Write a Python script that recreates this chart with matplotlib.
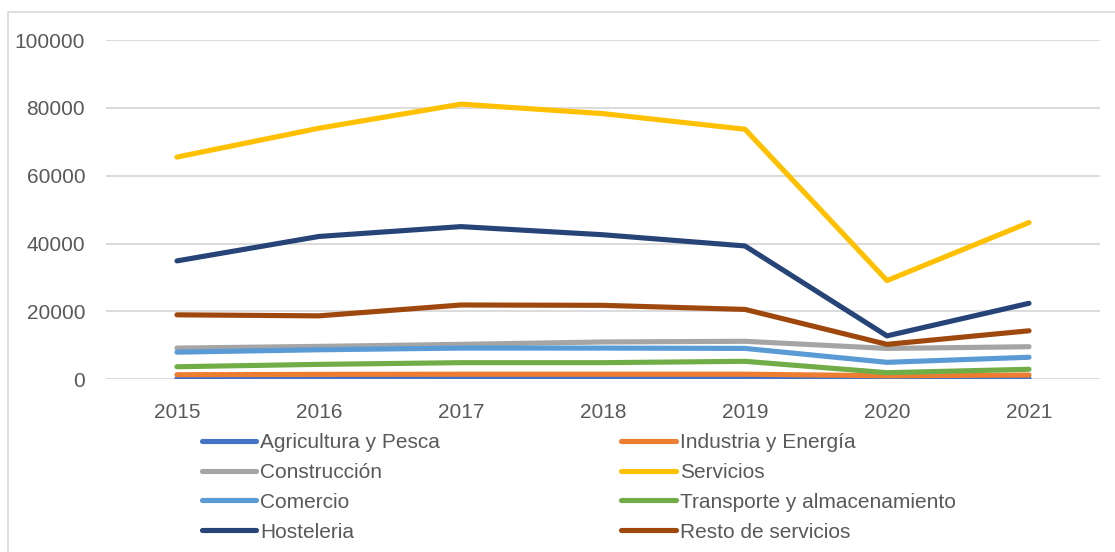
import matplotlib
matplotlib.use("Agg")
import matplotlib.pyplot as plt
from matplotlib.patches import Rectangle

years = ["2015", "2016", "2017", "2018", "2019", "2020", "2021"]
agricultura = [250, 250, 250, 250, 250, 200, 250]
industria = [1350, 1450, 1500, 1500, 1500, 1050, 1250]
construccion = [9200, 9700, 10300, 11000, 11200, 9100, 9600]
servicios = [65500, 74000, 81100, 78300, 73700, 29100, 46200]
comercio = [8000, 8700, 9200, 9200, 9100, 5000, 6500]
transporte = [3700, 4400, 4900, 4900, 5300, 1950, 2950]
hosteleria = [34900, 42100, 45000, 42600, 39300, 12800, 22400]
resto = [19000, 18700, 21900, 21800, 20600, 10300, 14300]

series = [
    ("Agricultura y Pesca", agricultura, "#4472C4"),
    ("Industria y Energía", industria, "#ED7D31"),
    ("Construcción", construccion, "#A5A5A5"),
    ("Servicios", servicios, "#FFC000"),
    ("Comercio", comercio, "#5B9BD5"),
    ("Transporte y almacenamiento", transporte, "#70AD47"),
    ("Hosteleria", hosteleria, "#264478"),
    ("Resto de servicios", resto, "#9E480E"),
]

plt.rcParams['font.family'] = ['Liberation Sans', 'DejaVu Sans']
W, H = 1115, 552
fig = plt.figure(figsize=(W / 100, H / 100), dpi=100)
ax = fig.add_axes([106 / W, 1 - 379.3 / H, (1100 - 106) / W, (379.3 - 40) / H])

x = list(range(len(years)))
handles = []
for name, vals, col in series:
    ln, = ax.plot(x, vals, color=col, lw=3.7, solid_capstyle='round',
                  solid_joinstyle='round', label=name, zorder=3)
    handles.append(ln)

ax.set_xlim(-0.5, len(years) - 0.5)
ax.set_ylim(0, 100000)
ax.set_yticks(range(0, 100001, 20000))
ax.set_xticks(x)
ax.set_xticklabels(years)
ax.grid(axis='y', color='#D9D9D9', lw=1.3, zorder=0)
for s in ax.spines.values():
    s.set_visible(False)
ax.tick_params(axis='both', length=0, labelsize=15, labelcolor='#595959')
ax.tick_params(axis='y', pad=15)
ax.tick_params(axis='x', pad=17)

order = [0, 2, 4, 6, 1, 3, 5, 7]
leg = fig.legend([handles[i] for i in order], [series[i][0] for i in order],
                 ncol=2, loc='upper left', bbox_to_anchor=(202 / W, 1 - 433 / H),
                 frameon=False, fontsize=15, handlelength=2.6, handletextpad=0.2,
                 labelspacing=0.52, columnspacing=8.7, borderpad=0, borderaxespad=0)
for t in leg.get_texts():
    t.set_color('#595959')

fig.patches.append(Rectangle((7.5 / W, -0.05), 1.2, (1 - 12 / H) + 0.05,
                             transform=fig.transFigure, fill=False,
                             edgecolor='#D9D9D9', lw=1.2))

fig.savefig("out.png", dpi=100)
